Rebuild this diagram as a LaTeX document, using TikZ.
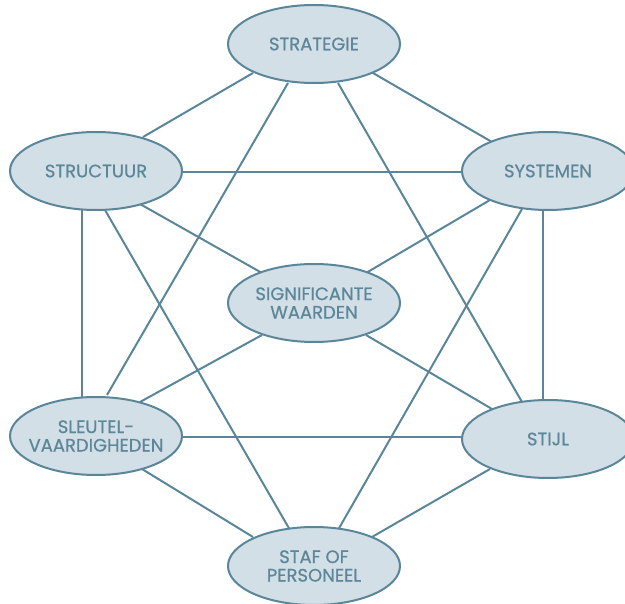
\documentclass[tikz,border=0pt]{standalone}
\usepackage{fontspec}
\setmainfont{Poppins}[FakeBold=0.7]
\usetikzlibrary{shapes.geometric,backgrounds}
\definecolor{fillc}{HTML}{D3DFE7}
\definecolor{linec}{HTML}{5A8699}
\definecolor{textc}{HTML}{5C8799}
\tikzset{
  oval/.style={ellipse, draw=linec, line width=2pt, fill=fillc,
    minimum width=172pt, minimum height=78pt, inner sep=0pt,
    label={[text=textc, align=center, inner sep=0pt,
      font=\fontsize{18}{18.5}\selectfont]center:#1}},
  link/.style={draw=linec, line width=2pt}
}
\begin{document}
\begin{tikzpicture}[x=1pt,y=-1pt]
\useasboundingbox (0,0) rectangle (625,604);
\clip (0,0) rectangle (625,604);
\node[oval={STRATEGIE}] (strat) at (314,44) {};
\node[oval={STRUCTUUR}] (struct) at (96,171) {};
\node[oval={SYSTEMEN}] (syst) at (548,171) {};
\node[oval={SIGNIFICANTE\\WAARDEN}] (signif) at (314,303) {};
\node[oval={SLEUTEL-\\VAARDIGHEDEN}] (sleut) at (96,436) {};
\node[oval={STIJL}] (stijl) at (548,439) {};
\node[oval={STAF OF\\PERSONEEL}] (staf) at (314,566) {};
\begin{scope}[on background layer]
\draw[link] ([shift={(-61,29)}]strat.center) -- ([shift={(47,-34)}]struct.center);
\draw[link] ([shift={(59,29)}]strat.center) -- ([shift={(-56,-29)}]syst.center);
\draw[link] ([shift={(-26,39)}]strat.center) -- ([shift={(11,-41)}]sleut.center);
\draw[link] ([shift={(24,39)}]strat.center) -- ([shift={(-26,-37)}]stijl.center);
\draw[link] ([shift={(85,1)}]struct.center) -- ([shift={(-85,1)}]syst.center);
\draw[link] ([shift={(44,33)}]struct.center) -- ([shift={(-52,-30)}]signif.center);
\draw[link] ([shift={(-14,38)}]struct.center) -- ([shift={(-14,-39)}]sleut.center);
\draw[link] ([shift={(9,39)}]struct.center) -- ([shift={(-24,-36)}]staf.center);
\draw[link] ([shift={(-58,29)}]syst.center) -- ([shift={(52,-30)}]signif.center);
\draw[link] ([shift={(-5,38)}]syst.center) -- ([shift={(-5,-39)}]stijl.center);
\draw[link] ([shift={(-26,38)}]syst.center) -- ([shift={(24,-36)}]staf.center);
\draw[link] ([shift={(-52,32)}]signif.center) -- ([shift={(44,-34)}]sleut.center);
\draw[link] ([shift={(52,32)}]signif.center) -- ([shift={(-56,-30)}]stijl.center);
\draw[link] ([shift={(85,1)}]sleut.center) -- ([shift={(-85,-2)}]stijl.center);
\draw[link] ([shift={(46,33)}]sleut.center) -- ([shift={(-61,-29)}]staf.center);
\draw[link] ([shift={(-58,30)}]stijl.center) -- ([shift={(58,-29)}]staf.center);
\end{scope}
\end{tikzpicture}
\end{document}
